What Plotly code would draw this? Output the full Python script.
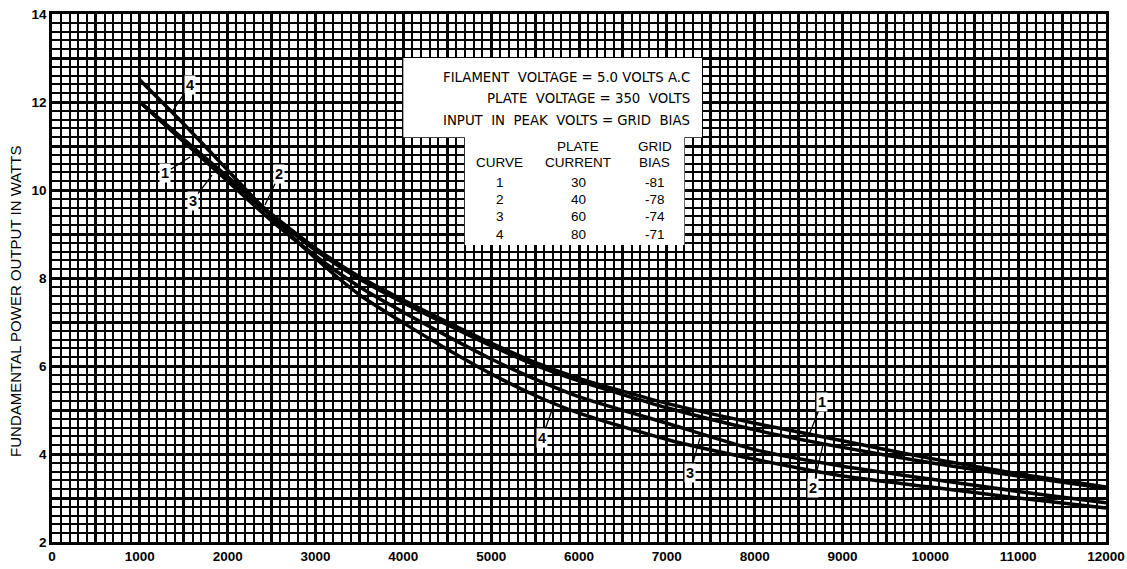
import plotly.graph_objects as go

# ---- data ----
x_vals = [1000, 1500, 2000, 2500, 3000, 3500, 4000, 4500, 5000, 5500, 6000,
          7000, 8000, 9000, 10000, 11000, 12000]
curve1 = [12.0, 11.15, 10.3, 9.45, 8.68, 8.03, 7.5, 7.0, 6.52, 6.08, 5.72,
          5.15, 4.7, 4.3, 3.9, 3.55, 3.25]
curve2 = [12.0, 11.1, 10.25, 9.42, 8.63, 7.98, 7.44, 6.94, 6.46, 6.02, 5.66,
          5.05, 4.55, 4.15, 3.8, 3.5, 3.22]
curve3 = [12.0, 11.1, 10.2, 9.3, 8.5, 7.8, 7.22, 6.68, 6.16, 5.7, 5.3,
          4.7, 4.1, 3.72, 3.43, 3.15, 2.89]
curve4 = [12.5, 11.5, 10.45, 9.4, 8.45, 7.62, 6.98, 6.38, 5.82, 5.33, 4.93,
          4.33, 3.88, 3.5, 3.25, 3.0, 2.77]
curves = {"1": curve1, "2": curve2, "3": curve3, "4": curve4}

x_tickvals = list(range(0, 12001, 500))
x_ticktext = [str(v) if v % 1000 == 0 else "" for v in x_tickvals]
y_tickvals = list(range(2, 15))
y_ticktext = [str(v) if v % 2 == 0 else "" for v in y_tickvals]

NB = "\u00a0"
header_lines = ["FILAMENT" + NB + " VOLTAGE = 5.0 VOLTS A.C",
                "PLATE" + NB + " VOLTAGE = 350" + NB + " VOLTS",
                "INPUT" + NB + " IN" + NB + " PEAK" + NB + " VOLTS = GRID" + NB + " BIAS"]
table_curve = ["1", "2", "3", "4"]
table_plate_current = ["30", "40", "60", "80"]
table_grid_bias = ["-81", "-78", "-74", "-71"]

# curve label callouts: (label, label_x, label_y, point_x, point_y)
callouts = [
    ("4", 1570, 12.39, 1366, 11.77),
    ("1", 1290, 10.39, 1571, 10.75),
    ("3", 1600, 9.75, 1822, 10.34),
    ("2", 2590, 10.36, 2425, 9.66),
    ("1", 8767, 5.18, 8619, 4.43),
    ("2", 8665, 3.23, 8778, 4.22),
    ("3", 7264, 3.57, 7378, 4.36),
    ("4", 5579, 4.36, 5704, 5.07),
]

FONT = "Liberation Sans"
HFONT = "DejaVu Sans"

fig = go.Figure()
for name, ys in curves.items():
    fig.add_trace(go.Scatter(x=x_vals, y=ys, mode="lines", name=name,
                             line=dict(color="black", width=3.5, shape="spline",
                                       smoothing=0.6),
                             showlegend=False, hoverinfo="skip"))

# white legend box
fig.add_shape(type="rect", xref="x", yref="y", x0=4000, x1=7400, y0=11.2, y1=13.0,
              fillcolor="white", line=dict(width=0), layer="above")
fig.add_shape(type="rect", xref="x", yref="y", x0=4700, x1=7200, y0=8.75, y1=11.25,
              fillcolor="white", line=dict(width=0), layer="above")

ann = []
hy = [12.55, 12.07, 11.59]
for t, y in zip(header_lines, hy):
    ann.append(dict(x=7290, y=y, xref="x", yref="y", text=t, showarrow=False,
                    xanchor="right",
                    font=dict(family=HFONT, size=13.3, color="black")))
col_x = [5100, 5990, 6860]
ann.append(dict(x=col_x[1], y=11.0, xref="x", yref="y", text="PLATE", showarrow=False,
                font=dict(family=FONT, size=13.5, color="black")))
ann.append(dict(x=col_x[2], y=11.0, xref="x", yref="y", text="GRID", showarrow=False,
                font=dict(family=FONT, size=13.5, color="black")))
for cx, t in zip(col_x, ["CURVE", "CURRENT", "BIAS"]):
    ann.append(dict(x=cx, y=10.63, xref="x", yref="y", text=t, showarrow=False,
                    font=dict(family=FONT, size=13.5, color="black")))
row_y = [10.18, 9.79, 9.4, 9.0]
for i, ry in enumerate(row_y):
    for cx, vals in zip(col_x, [table_curve, table_plate_current, table_grid_bias]):
        ann.append(dict(x=cx, y=ry, xref="x", yref="y", text=vals[i], showarrow=False,
                        font=dict(family=FONT, size=13.5, color="black")))

for lab, lx, ly, px, py in callouts:
    ann.append(dict(x=px, y=py, xref="x", yref="y", ax=lx, ay=ly, axref="x", ayref="y",
                    text=lab, showarrow=True, arrowhead=0, arrowwidth=1.3,
                    arrowcolor="black", bgcolor="white",
                    font=dict(family=FONT, size=14.5, color="black", weight="bold")))

ann.append(dict(x=-0.034, y=0.455, xref="paper", yref="paper", xanchor="center",
                yanchor="middle", text="FUNDAMENTAL POWER OUTPUT IN WATTS", textangle=-90,
                showarrow=False, font=dict(family=FONT, size=15, color="black")))

fig.update_layout(
    width=1127, height=569,
    margin=dict(l=52, r=21, t=14, b=27, autoexpand=False),
    paper_bgcolor="white", plot_bgcolor="white",
    annotations=ann,
    font=dict(family=FONT, color="black"),
)
common = dict(showgrid=True, gridcolor="black", gridwidth=2.6,
              showline=True, linecolor="black", linewidth=2.6, mirror=True,
              ticks="", tickfont=dict(family=FONT, size=13.5, color="black", weight="bold"),
              zeroline=False, fixedrange=True, automargin=False)
fig.update_xaxes(range=[0, 12000], tickvals=x_tickvals, ticktext=x_ticktext,
                 minor=dict(dtick=100, tick0=0, showgrid=True, gridcolor="black", gridwidth=1.7),
                 **common)
fig.update_yaxes(range=[2, 14], tickvals=y_tickvals, ticktext=y_ticktext,
                 minor=dict(dtick=0.2, tick0=2, showgrid=True, gridcolor="black", gridwidth=1.7),
                 **common)

fig.write_html("out.html", config={"displayModeBar": False},
               post_script="document.body.style.margin='0';document.body.style.overflow='hidden';")
